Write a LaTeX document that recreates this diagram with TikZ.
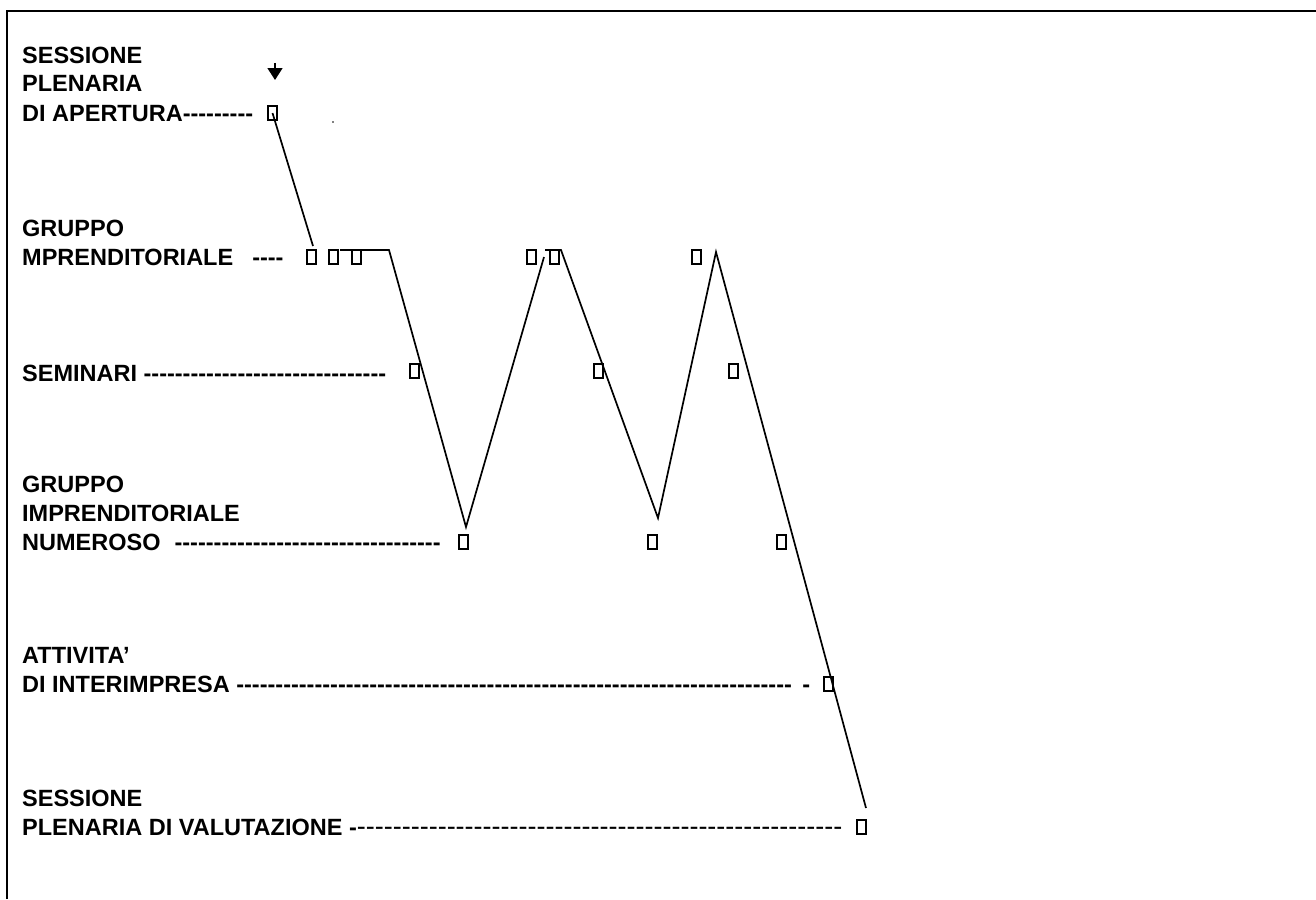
\documentclass[tikz,border=0pt]{standalone}
\usepackage{fontspec}
\setmainfont{Liberation Sans}
\usetikzlibrary{arrows.meta}

% a run of hyphens, kept apart so they do not join into dashes
\newcommand\dashrun[1]{\foreach\k in {1,...,#1}{-\kern0pt}}

\begin{document}
\begin{tikzpicture}[
    x=1pt, y=-1pt,
    font=\bfseries\fontsize{23.5}{29}\selectfont,
    lbl/.style={anchor=base west, inner sep=0pt, align=left},
    slot/.style={draw, line width=2pt, minimum width=9pt, minimum height=14pt, inner sep=0pt, anchor=south west},
    trace/.style={line width=1.7pt},
  ]
    \useasboundingbox (0,0) rectangle (1316,899);
    \draw[line width=2.2pt] (7,899) -- (7,11) -- (1316,11);

    % labels, one per stage
    \node[lbl] (apert) at (22,121) {SESSIONE\\PLENARIA\\DI APERTURA\dashrun{9}};
    \node[lbl] (impr) at (22,265) {GRUPPO\\MPRENDITORIALE\hspace*{19pt}\dashrun{4}};
    \node[lbl] (semin) at (22,381) {SEMINARI \dashrun{31}};
    \node[lbl] (numer) at (22,550) {GRUPPO\\IMPRENDITORIALE\\NUMEROSO\hspace*{14pt}\dashrun{34}};
    \node[lbl] (inter) at (22,692) {ATTIVITA’\\DI INTERIMPRESA \dashrun{71} \,-};
    \node[lbl] (valut) at (22,835) {SESSIONE\\PLENARIA DI VALUTAZIONE -{\mdseries\fontsize{27}{29}\selectfont\dashrun{54}}};

    % small boxes on each level
    \node[slot] (o1) at (267,121) {};
    \foreach \i/\x in {1/306, 2/328, 3/351, 4/526, 5/549, 6/691}
      \node[slot] (g\i) at (\x,265) {};
    \foreach \i/\x in {1/409, 2/593, 3/728}
      \node[slot] (s\i) at (\x,379) {};
    \foreach \i/\x in {1/458, 2/647, 3/776}
      \node[slot] (n\i) at (\x,550) {};
    \node[slot] (a1) at (823,692) {};
    \node[slot] (v1) at (856,835) {};

    \coordinate (entry) at (275,63);
    \coordinate (t2) at (313,246);
    \coordinate (t3) at (340,250);
    \coordinate (t4) at (389,250);
    \coordinate (t5) at (466,527);
    \coordinate (t6) at (544,257);
    \coordinate (t7) at (545,250);
    \coordinate (t8) at (561,250);
    \coordinate (t9) at (658,518);
    \coordinate (t10) at (716,252);
    \coordinate (t11) at (866,808);

    \draw[line width=1.6pt, -{Triangle[width=15pt,length=12pt]}] (entry) -- ++(0,17);
    \draw[trace] (o1.center) -- (t2);
    \draw[trace] (t3) -- (t4) -- (t5) -- (t6);
    \draw[trace] (t7) -- (t8) -- (t9) -- (t10) -- (t11);
    \fill (333,122) circle (0.8pt);
  \end{tikzpicture}
\end{document}
